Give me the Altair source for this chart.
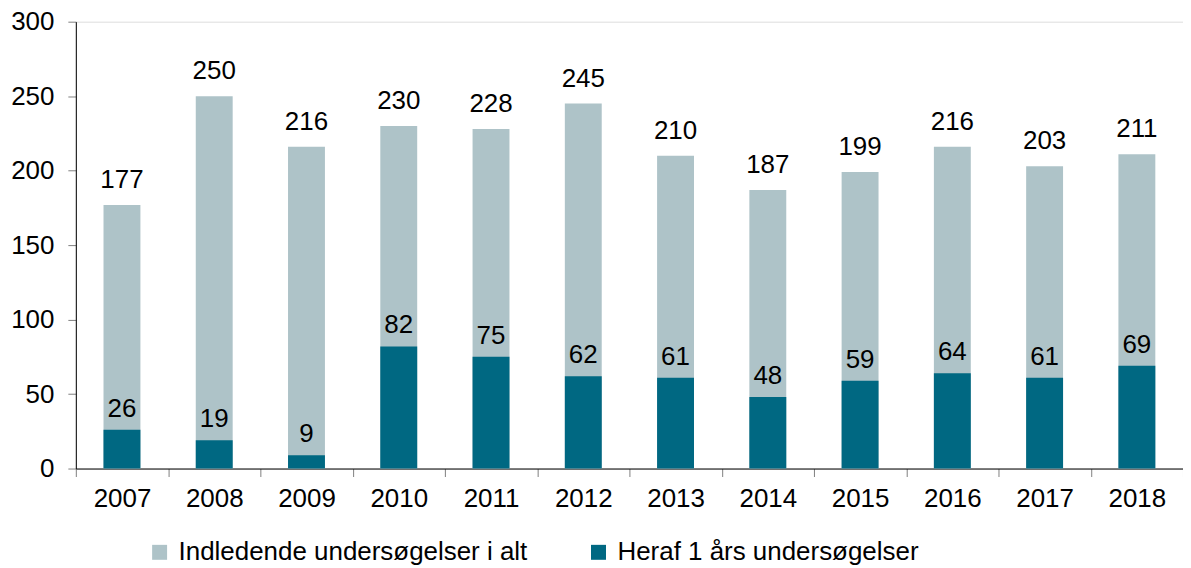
import altair as alt
import pandas as pd

years = ["2007", "2008", "2009", "2010", "2011", "2012",
         "2013", "2014", "2015", "2016", "2017", "2018"]
totals = [177, 250, 216, 230, 228, 245, 210, 187, 199, 216, 203, 211]
one_year = [26, 19, 9, 82, 75, 62, 61, 48, 59, 64, 61, 69]
series_names = ["Indledende undersøgelser i alt", "Heraf 1 års undersøgelser"]
series_colors = ["#AEC3C8", "#006882"]
y_ticks = [0, 50, 100, 150, 200, 250, 300]

rows = []
for y, t in zip(years, totals):
    rows.append({"year": y, "series": series_names[0], "value": t})
for y, s in zip(years, one_year):
    rows.append({"year": y, "series": series_names[1], "value": s})
df = pd.DataFrame(rows)

FONT = "Liberation Sans"
FS = 26

x_enc = alt.X(
    "year:N",
    sort=years,
    title=None,
    scale=alt.Scale(paddingInner=0, paddingOuter=0),
    axis=alt.Axis(
        labelAngle=0, labelFontSize=FS, labelFont=FONT, labelColor="black",
        tickBand="extent", tickSize=8, tickColor="#808080",
        domainColor="black", labelPadding=9, grid=False,
    ),
)
y_enc = alt.Y(
    "value:Q",
    title=None,
    scale=alt.Scale(domain=[0, 300], nice=False),
    axis=alt.Axis(
        values=y_ticks, labelFontSize=FS, labelFont=FONT, labelColor="black",
        tickSize=8, tickColor="#808080", domainColor="black",
        labelPadding=14, grid=False,
    ),
)
color_enc = alt.Color(
    "series:N",
    scale=alt.Scale(domain=series_names, range=series_colors),
    legend=alt.Legend(
        title=None, orient="none", direction="horizontal",
        legendX=71, legendY=519,
        symbolType="square", symbolSize=225, symbolStrokeWidth=0,
        labelFontSize=FS, labelFont=FONT, labelColor="black",
        labelOffset=6, columnPadding=58, labelLimit=600,
    ),
)

base = alt.Chart(df)

bars_total = base.transform_filter(alt.datum.series == series_names[0]).mark_bar(size=37).encode(
    x=x_enc, y=y_enc, color=color_enc
)
bars_sub = base.transform_filter(alt.datum.series == series_names[1]).mark_bar(size=37).encode(
    x=x_enc, y=y_enc, color=color_enc
)
text_total = base.transform_filter(alt.datum.series == series_names[0]).mark_text(
    baseline="alphabetic", dy=-17, fontSize=FS, font=FONT, color="black"
).encode(x=x_enc, y=y_enc, text="value:Q")
text_sub = base.transform_filter(alt.datum.series == series_names[1]).mark_text(
    baseline="alphabetic", dy=-13, fontSize=FS, font=FONT, color="black"
).encode(x=x_enc, y=y_enc, text="value:Q")

chart = alt.layer(bars_total, bars_sub, text_total, text_sub).properties(
    width=1110,
    height=448,
    autosize=alt.AutoSizeParams(type="none"),
    padding={"left": 68, "top": 13, "right": 0, "bottom": 97},
).configure_view(stroke=None).configure(background="white")

chart.save("out.html", embed_options={"renderer": "svg", "actions": False})
